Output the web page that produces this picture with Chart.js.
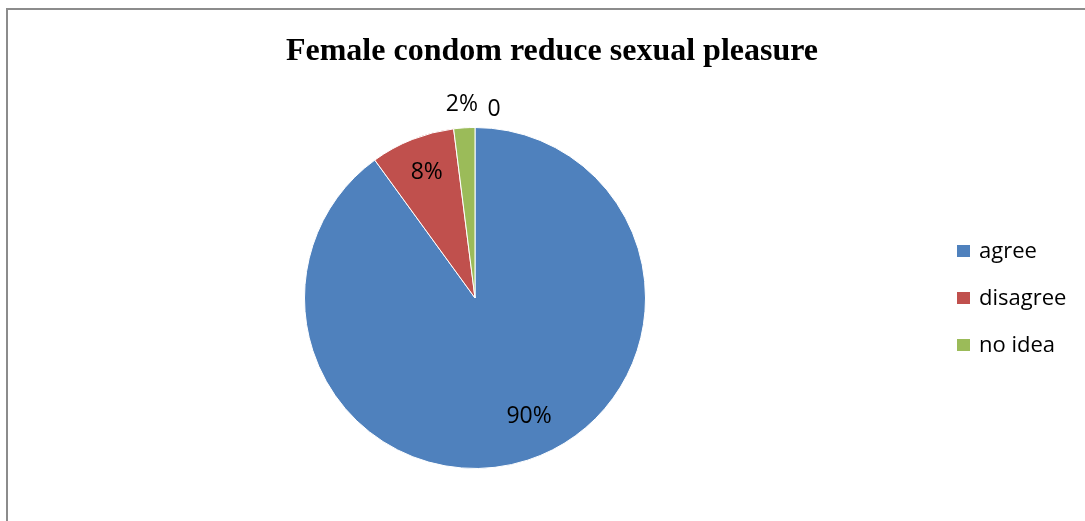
<!DOCTYPE html>
<html>
<head>
<meta charset="utf-8">
<script src="https://cdn.jsdelivr.net/npm/chart.js@4.4.0/dist/chart.umd.min.js"></script>
<style>
  html, body { margin: 0; padding: 0; background: #fff; overflow: hidden; }
  #wrap { position: relative; width: 1085px; height: 521px; overflow: hidden; }
  #frame { position: absolute; left: 6px; top: 8px; width: 1200px; height: 600px;
           border-left: 2px solid #8c8c8c; border-top: 2px solid #8c8c8c; box-sizing: border-box; }
  canvas { position: absolute; left: 0; top: 0; }
</style>
</head>
<body>
<div id="wrap">
  <div id="frame"></div>
  <canvas id="c" width="1085" height="521"></canvas>
</div>
<script>
const titleText = "Female condom reduce sexual pleasure";
const categories = ["agree", "disagree", "no idea", ""];
const values = [90, 8, 2, 0];
const valueLabels = ["90%", "8%", "2%", "0"];
const colors = ["#4F81BD", "#C0504D", "#9BBB59", "#8064A2"];

// label placement style: radius factor and pixel nudge per slice
const labelRadius = [0.76, 0.80, 1.135, 1.11];
const labelNudge = [[14, -5], [2, 1], [-1, 0], [19, 1]];

const FONT = '"Open Sans", "Liberation Sans", sans-serif';

const overlay = {
  id: 'overlay',
  afterDraw(chart) {
    const ctx = chart.ctx;
    ctx.save();
    // title
    ctx.fillStyle = '#000';
    ctx.font = 'bold 32px "Liberation Serif", "Times New Roman", serif';
    ctx.textAlign = 'center';
    ctx.textBaseline = 'alphabetic';
    ctx.fillText(titleText, 552, 60);

    // data labels
    const meta = chart.getDatasetMeta(0);
    ctx.font = '23px ' + FONT;
    ctx.textAlign = 'center';
    ctx.textBaseline = 'middle';
    meta.data.forEach((arc, i) => {
      const p = arc.getProps(['x', 'y', 'startAngle', 'endAngle', 'outerRadius'], true);
      const mid = (p.startAngle + p.endAngle) / 2;
      const r = p.outerRadius * labelRadius[i];
      const x = p.x + Math.cos(mid) * r + labelNudge[i][0];
      const y = p.y + Math.sin(mid) * r + labelNudge[i][1];
      ctx.fillStyle = '#000';
      ctx.fillText(valueLabels[i], x, y);
    });

    // legend
    ctx.textAlign = 'left';
    ctx.textBaseline = 'middle';
    const legendItems = categories.filter(c => c !== '');
    legendItems.forEach((name, i) => {
      const cy = 251 + i * 47;
      ctx.fillStyle = colors[i];
      ctx.fillRect(957, cy - 6, 13, 12);
      ctx.fillStyle = '#000';
      ctx.font = '22px ' + FONT;
      ctx.fillText(name, 979, cy + 1);
    });
    ctx.restore();
  }
};

new Chart(document.getElementById('c'), {
  type: 'pie',
  data: {
    labels: categories,
    datasets: [{
      data: values,
      backgroundColor: colors,
      borderColor: '#ffffff',
      borderWidth: 1
    }]
  },
  options: {
    responsive: false,
    animation: false,
    layout: { padding: { left: 304, right: 439, top: 127, bottom: 52 } },
    plugins: {
      legend: { display: false },
      title: { display: false },
      tooltip: { enabled: false }
    }
  },
  plugins: [overlay]
});
</script>
</body>
</html>
